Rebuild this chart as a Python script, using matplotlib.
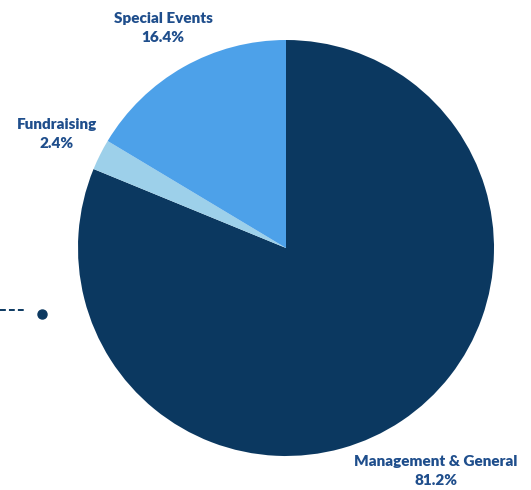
import matplotlib
matplotlib.use("Agg")
import matplotlib.pyplot as plt

categories = ["Management & General", "Fundraising", "Special Events"]
values = [81.2, 2.4, 16.4]
colors = ["#0B3860", "#9DD0EA", "#4DA1E9"]
label_color = "#1F4E8C"

W, H = 531, 490
fig = plt.figure(figsize=(W / 100, H / 100), dpi=100)
ax = fig.add_axes([0, 0, 1, 1])

cx, cy, r = 286, H - 248, 208
ax.pie(values, colors=colors, startangle=90, counterclock=False,
       center=(cx, cy), radius=r, frame=True,
       wedgeprops=dict(linewidth=0))
ax.set_xlim(0, W)
ax.set_ylim(0, H)
ax.set_aspect("equal")
ax.axis("off")

label_pos = [(436, H - 471), (57, H - 134), (163, H - 28)]
for cat, val, (x, y) in zip(categories, values, label_pos):
    ax.text(x, y, f"{cat}\n{val:.1f}%", ha="center", va="center",
            fontsize=11, fontweight="heavy", family="Lato",
            color=label_color, linespacing=1.5)

# legend remnant at left
ax.plot([0, 26], [H - 310, H - 310], color="#0B3860", lw=1.4, ls=(0, (3, 1.6)))
ax.plot([42], [H - 314], "o", color="#0B3860", ms=6.5)

fig.savefig("out.png", dpi=100)
